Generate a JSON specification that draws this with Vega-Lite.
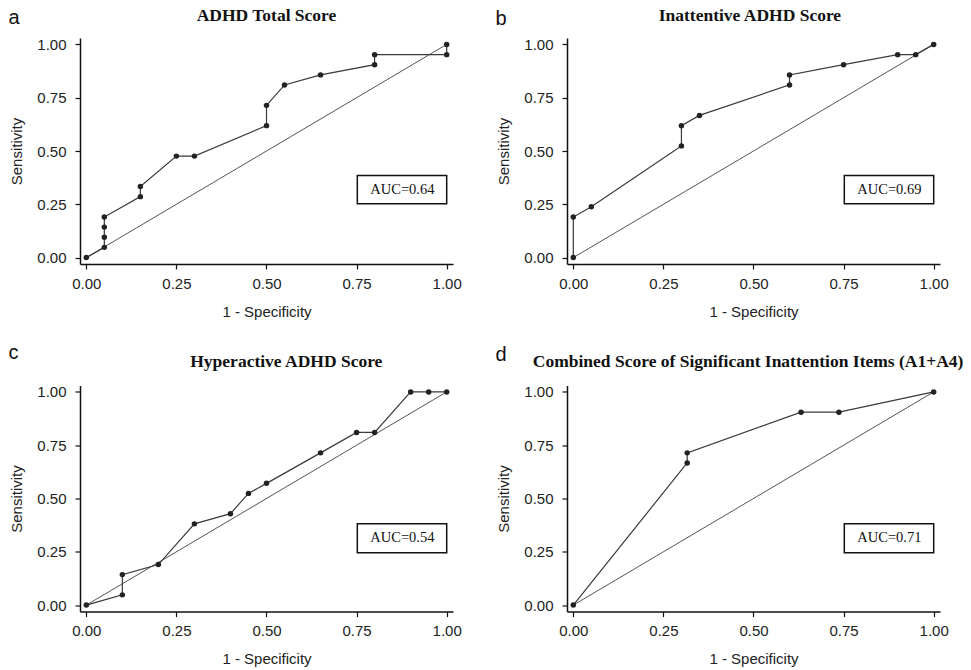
{
  "$schema": "https://vega.github.io/schema/vega-lite/v6.json",
  "background": "white",
  "padding": {"left": 8, "top": 7, "right": 5, "bottom": 2},
  "columns": 2,
  "spacing": {"row": 23.5, "column": 33},
  "config": {
    "view": {"stroke": null},
    "axis": {
      "domainColor": "#111", "domainWidth": 1.5, "tickColor": "#111", "tickWidth": 1.2, "tickSize": 5,
      "gridColor": "#ececec", "gridWidth": 1, "labelFont": "Liberation Sans", "labelFontSize": 15,
      "labelColor": "#222", "titleFont": "Liberation Sans", "titleFontSize": 15, "titleFontWeight": "normal",
      "titleColor": "#222", "labelFlush": false
    },
    "axisX": {"labelPadding": 7, "titlePadding": 13},
    "axisY": {"labelPadding": 9, "titlePadding": 12}
  },
  "datasets": {
    "roc": [
      {"p": "a", "i": 1, "fpr": 0, "tpr": 0},
      {"p": "a", "i": 2, "fpr": 0.05, "tpr": 0.048},
      {"p": "a", "i": 3, "fpr": 0.05, "tpr": 0.095},
      {"p": "a", "i": 4, "fpr": 0.05, "tpr": 0.143},
      {"p": "a", "i": 5, "fpr": 0.05, "tpr": 0.19},
      {"p": "a", "i": 6, "fpr": 0.15, "tpr": 0.286},
      {"p": "a", "i": 7, "fpr": 0.15, "tpr": 0.333},
      {"p": "a", "i": 8, "fpr": 0.25, "tpr": 0.476},
      {"p": "a", "i": 9, "fpr": 0.3, "tpr": 0.476},
      {"p": "a", "i": 10, "fpr": 0.5, "tpr": 0.619},
      {"p": "a", "i": 11, "fpr": 0.5, "tpr": 0.714},
      {"p": "a", "i": 12, "fpr": 0.55, "tpr": 0.81},
      {"p": "a", "i": 13, "fpr": 0.65, "tpr": 0.857},
      {"p": "a", "i": 14, "fpr": 0.8, "tpr": 0.905},
      {"p": "a", "i": 15, "fpr": 0.8, "tpr": 0.952},
      {"p": "a", "i": 16, "fpr": 1, "tpr": 0.952},
      {"p": "a", "i": 17, "fpr": 1, "tpr": 1},
      {"p": "b", "i": 1, "fpr": 0, "tpr": 0},
      {"p": "b", "i": 2, "fpr": 0, "tpr": 0.19},
      {"p": "b", "i": 3, "fpr": 0.05, "tpr": 0.238},
      {"p": "b", "i": 4, "fpr": 0.3, "tpr": 0.524},
      {"p": "b", "i": 5, "fpr": 0.3, "tpr": 0.619},
      {"p": "b", "i": 6, "fpr": 0.35, "tpr": 0.667},
      {"p": "b", "i": 7, "fpr": 0.6, "tpr": 0.81},
      {"p": "b", "i": 8, "fpr": 0.6, "tpr": 0.857},
      {"p": "b", "i": 9, "fpr": 0.75, "tpr": 0.905},
      {"p": "b", "i": 10, "fpr": 0.9, "tpr": 0.952},
      {"p": "b", "i": 11, "fpr": 0.95, "tpr": 0.952},
      {"p": "b", "i": 12, "fpr": 1, "tpr": 1},
      {"p": "c", "i": 1, "fpr": 0, "tpr": 0},
      {"p": "c", "i": 2, "fpr": 0.1, "tpr": 0.048},
      {"p": "c", "i": 3, "fpr": 0.1, "tpr": 0.143},
      {"p": "c", "i": 4, "fpr": 0.2, "tpr": 0.19},
      {"p": "c", "i": 5, "fpr": 0.3, "tpr": 0.381},
      {"p": "c", "i": 6, "fpr": 0.4, "tpr": 0.429},
      {"p": "c", "i": 7, "fpr": 0.45, "tpr": 0.524},
      {"p": "c", "i": 8, "fpr": 0.5, "tpr": 0.571},
      {"p": "c", "i": 9, "fpr": 0.65, "tpr": 0.714},
      {"p": "c", "i": 10, "fpr": 0.75, "tpr": 0.81},
      {"p": "c", "i": 11, "fpr": 0.8, "tpr": 0.81},
      {"p": "c", "i": 12, "fpr": 0.9, "tpr": 1},
      {"p": "c", "i": 13, "fpr": 0.95, "tpr": 1},
      {"p": "c", "i": 14, "fpr": 1, "tpr": 1},
      {"p": "d", "i": 1, "fpr": 0, "tpr": 0},
      {"p": "d", "i": 2, "fpr": 0.316, "tpr": 0.667},
      {"p": "d", "i": 3, "fpr": 0.316, "tpr": 0.714},
      {"p": "d", "i": 4, "fpr": 0.632, "tpr": 0.905},
      {"p": "d", "i": 5, "fpr": 0.737, "tpr": 0.905},
      {"p": "d", "i": 6, "fpr": 1, "tpr": 1}
    ],
    "ann": [
      {"p": "a", "letter": "a", "title": "ADHD Total Score", "auc": "AUC=0.64"},
      {"p": "b", "letter": "b", "title": "Inattentive ADHD Score", "auc": "AUC=0.69"},
      {"p": "c", "letter": "c", "title": "Hyperactive ADHD Score", "auc": "AUC=0.54"},
      {"p": "d", "letter": "d", "title": "Combined Score of Significant Inattention Items (A1+A4)", "auc": "AUC=0.71"}
    ]
  },
  "concat": [
    {
      "width": 373, "height": 226,
      "data": {"name": "roc"},
      "transform": [{"filter": "datum.p === 'a'"}],
      "layer": [
        {"data": {"name": "ann"}, "transform": [{"filter": "datum.p === 'a'"}], "mark": {"type": "rule", "color": "#555", "strokeWidth": 1}, "encoding": {"x": {"datum": 0, "type": "quantitative", "title": "1 - Specificity"}, "y": {"datum": 0, "type": "quantitative", "title": "Sensitivity"}, "x2": {"datum": 1}, "y2": {"datum": 1}}},
        {"mark": {"type": "line", "color": "#3a3a3a", "strokeWidth": 1.2}, "encoding": {
          "x": {"field": "fpr", "type": "quantitative", "title": "1 - Specificity", "scale": {"domain": [-0.0175, 1.0175], "nice": false, "zero": false}, "axis": {"values": [0, 0.25, 0.5, 0.75, 1], "format": ".2f"}},
          "y": {"field": "tpr", "type": "quantitative", "title": "Sensitivity", "scale": {"domain": [-0.03, 1.03], "nice": false, "zero": false}, "axis": {"values": [0, 0.25, 0.5, 0.75, 1], "format": ".2f"}},
          "order": {"field": "i"}}},
        {"mark": {"type": "point", "filled": true, "color": "#222", "size": 30, "opacity": 1}, "encoding": {"x": {"field": "fpr", "type": "quantitative", "title": "1 - Specificity"}, "y": {"field": "tpr", "type": "quantitative", "title": "Sensitivity"}}},
        {"data": {"name": "ann"}, "transform": [{"filter": "datum.p === 'a'"}], "mark": {"type": "rect", "fill": "white", "stroke": "#111", "strokeWidth": 1.5}, "encoding": {"x": {"datum": 0.752, "type": "quantitative", "title": "1 - Specificity"}, "x2": {"datum": 1.0}, "y": {"datum": 0.253, "type": "quantitative", "title": "Sensitivity"}, "y2": {"datum": 0.385}}},
        {"data": {"name": "ann"}, "transform": [{"filter": "datum.p === 'a'"}], "mark": {"type": "text", "font": "Liberation Serif", "fontSize": 14.5, "color": "#111", "baseline": "middle"}, "encoding": {"x": {"datum": 0.877, "type": "quantitative", "title": "1 - Specificity"}, "y": {"datum": 0.319, "type": "quantitative", "title": "Sensitivity"}, "text": {"field": "auc"}}},
        {"data": {"name": "ann"}, "transform": [{"filter": "datum.p === 'a'"}], "mark": {"type": "text", "font": "Liberation Sans", "fontSize": 20, "align": "left", "baseline": "alphabetic", "color": "#111"}, "encoding": {"x": {"datum": -0.216, "type": "quantitative", "title": "1 - Specificity"}, "y": {"datum": 1.097, "type": "quantitative", "title": "Sensitivity"}, "text": {"field": "letter"}}},
        {"data": {"name": "ann"}, "transform": [{"filter": "datum.p === 'a'"}], "mark": {"type": "text", "font": "Liberation Serif", "fontSize": 17.5, "fontWeight": "bold", "align": "center", "baseline": "alphabetic", "color": "#111"}, "encoding": {"x": {"datum": 0.5, "type": "quantitative", "title": "1 - Specificity"}, "y": {"datum": 1.109, "type": "quantitative", "title": "Sensitivity"}, "text": {"field": "title"}}}
      ]
    },
    {
      "width": 373, "height": 226,
      "data": {"name": "roc"},
      "transform": [{"filter": "datum.p === 'b'"}],
      "layer": [
        {"data": {"name": "ann"}, "transform": [{"filter": "datum.p === 'b'"}], "mark": {"type": "rule", "color": "#555", "strokeWidth": 1}, "encoding": {"x": {"datum": 0, "type": "quantitative", "title": "1 - Specificity"}, "y": {"datum": 0, "type": "quantitative", "title": "Sensitivity"}, "x2": {"datum": 1}, "y2": {"datum": 1}}},
        {"mark": {"type": "line", "color": "#3a3a3a", "strokeWidth": 1.2}, "encoding": {
          "x": {"field": "fpr", "type": "quantitative", "title": "1 - Specificity", "scale": {"domain": [-0.0175, 1.0175], "nice": false, "zero": false}, "axis": {"values": [0, 0.25, 0.5, 0.75, 1], "format": ".2f"}},
          "y": {"field": "tpr", "type": "quantitative", "title": "Sensitivity", "scale": {"domain": [-0.03, 1.03], "nice": false, "zero": false}, "axis": {"values": [0, 0.25, 0.5, 0.75, 1], "format": ".2f"}},
          "order": {"field": "i"}}},
        {"mark": {"type": "point", "filled": true, "color": "#222", "size": 30, "opacity": 1}, "encoding": {"x": {"field": "fpr", "type": "quantitative", "title": "1 - Specificity"}, "y": {"field": "tpr", "type": "quantitative", "title": "Sensitivity"}}},
        {"data": {"name": "ann"}, "transform": [{"filter": "datum.p === 'b'"}], "mark": {"type": "rect", "fill": "white", "stroke": "#111", "strokeWidth": 1.5}, "encoding": {"x": {"datum": 0.752, "type": "quantitative", "title": "1 - Specificity"}, "x2": {"datum": 1.0}, "y": {"datum": 0.253, "type": "quantitative", "title": "Sensitivity"}, "y2": {"datum": 0.385}}},
        {"data": {"name": "ann"}, "transform": [{"filter": "datum.p === 'b'"}], "mark": {"type": "text", "font": "Liberation Serif", "fontSize": 14.5, "color": "#111", "baseline": "middle"}, "encoding": {"x": {"datum": 0.877, "type": "quantitative", "title": "1 - Specificity"}, "y": {"datum": 0.319, "type": "quantitative", "title": "Sensitivity"}, "text": {"field": "auc"}}},
        {"data": {"name": "ann"}, "transform": [{"filter": "datum.p === 'b'"}], "mark": {"type": "text", "font": "Liberation Sans", "fontSize": 20, "align": "left", "baseline": "alphabetic", "color": "#111"}, "encoding": {"x": {"datum": -0.216, "type": "quantitative", "title": "1 - Specificity"}, "y": {"datum": 1.089, "type": "quantitative", "title": "Sensitivity"}, "text": {"field": "letter"}}},
        {"data": {"name": "ann"}, "transform": [{"filter": "datum.p === 'b'"}], "mark": {"type": "text", "font": "Liberation Serif", "fontSize": 17.5, "fontWeight": "bold", "align": "center", "baseline": "alphabetic", "color": "#111"}, "encoding": {"x": {"datum": 0.49, "type": "quantitative", "title": "1 - Specificity"}, "y": {"datum": 1.109, "type": "quantitative", "title": "Sensitivity"}, "text": {"field": "title"}}}
      ]
    },
    {
      "width": 373, "height": 226,
      "data": {"name": "roc"},
      "transform": [{"filter": "datum.p === 'c'"}],
      "layer": [
        {"data": {"name": "ann"}, "transform": [{"filter": "datum.p === 'c'"}], "mark": {"type": "rule", "color": "#555", "strokeWidth": 1}, "encoding": {"x": {"datum": 0, "type": "quantitative", "title": "1 - Specificity"}, "y": {"datum": 0, "type": "quantitative", "title": "Sensitivity"}, "x2": {"datum": 1}, "y2": {"datum": 1}}},
        {"mark": {"type": "line", "color": "#3a3a3a", "strokeWidth": 1.2}, "encoding": {
          "x": {"field": "fpr", "type": "quantitative", "title": "1 - Specificity", "scale": {"domain": [-0.0175, 1.0175], "nice": false, "zero": false}, "axis": {"values": [0, 0.25, 0.5, 0.75, 1], "format": ".2f"}},
          "y": {"field": "tpr", "type": "quantitative", "title": "Sensitivity", "scale": {"domain": [-0.03, 1.03], "nice": false, "zero": false}, "axis": {"values": [0, 0.25, 0.5, 0.75, 1], "format": ".2f"}},
          "order": {"field": "i"}}},
        {"mark": {"type": "point", "filled": true, "color": "#222", "size": 30, "opacity": 1}, "encoding": {"x": {"field": "fpr", "type": "quantitative", "title": "1 - Specificity"}, "y": {"field": "tpr", "type": "quantitative", "title": "Sensitivity"}}},
        {"data": {"name": "ann"}, "transform": [{"filter": "datum.p === 'c'"}], "mark": {"type": "rect", "fill": "white", "stroke": "#111", "strokeWidth": 1.5}, "encoding": {"x": {"datum": 0.752, "type": "quantitative", "title": "1 - Specificity"}, "x2": {"datum": 1.0}, "y": {"datum": 0.246, "type": "quantitative", "title": "Sensitivity"}, "y2": {"datum": 0.382}}},
        {"data": {"name": "ann"}, "transform": [{"filter": "datum.p === 'c'"}], "mark": {"type": "text", "font": "Liberation Serif", "fontSize": 14.5, "color": "#111", "baseline": "middle"}, "encoding": {"x": {"datum": 0.877, "type": "quantitative", "title": "1 - Specificity"}, "y": {"datum": 0.314, "type": "quantitative", "title": "Sensitivity"}, "text": {"field": "auc"}}},
        {"data": {"name": "ann"}, "transform": [{"filter": "datum.p === 'c'"}], "mark": {"type": "text", "font": "Liberation Sans", "fontSize": 20, "align": "left", "baseline": "alphabetic", "color": "#111"}, "encoding": {"x": {"datum": -0.216, "type": "quantitative", "title": "1 - Specificity"}, "y": {"datum": 1.154, "type": "quantitative", "title": "Sensitivity"}, "text": {"field": "letter"}}},
        {"data": {"name": "ann"}, "transform": [{"filter": "datum.p === 'c'"}], "mark": {"type": "text", "font": "Liberation Serif", "fontSize": 17.5, "fontWeight": "bold", "align": "center", "baseline": "alphabetic", "color": "#111"}, "encoding": {"x": {"datum": 0.555, "type": "quantitative", "title": "1 - Specificity"}, "y": {"datum": 1.118, "type": "quantitative", "title": "Sensitivity"}, "text": {"field": "title"}}}
      ]
    },
    {
      "width": 373, "height": 226,
      "data": {"name": "roc"},
      "transform": [{"filter": "datum.p === 'd'"}],
      "layer": [
        {"data": {"name": "ann"}, "transform": [{"filter": "datum.p === 'd'"}], "mark": {"type": "rule", "color": "#555", "strokeWidth": 1}, "encoding": {"x": {"datum": 0, "type": "quantitative", "title": "1 - Specificity"}, "y": {"datum": 0, "type": "quantitative", "title": "Sensitivity"}, "x2": {"datum": 1}, "y2": {"datum": 1}}},
        {"mark": {"type": "line", "color": "#3a3a3a", "strokeWidth": 1.2}, "encoding": {
          "x": {"field": "fpr", "type": "quantitative", "title": "1 - Specificity", "scale": {"domain": [-0.0175, 1.0175], "nice": false, "zero": false}, "axis": {"values": [0, 0.25, 0.5, 0.75, 1], "format": ".2f"}},
          "y": {"field": "tpr", "type": "quantitative", "title": "Sensitivity", "scale": {"domain": [-0.03, 1.03], "nice": false, "zero": false}, "axis": {"values": [0, 0.25, 0.5, 0.75, 1], "format": ".2f"}},
          "order": {"field": "i"}}},
        {"mark": {"type": "point", "filled": true, "color": "#222", "size": 30, "opacity": 1}, "encoding": {"x": {"field": "fpr", "type": "quantitative", "title": "1 - Specificity"}, "y": {"field": "tpr", "type": "quantitative", "title": "Sensitivity"}}},
        {"data": {"name": "ann"}, "transform": [{"filter": "datum.p === 'd'"}], "mark": {"type": "rect", "fill": "white", "stroke": "#111", "strokeWidth": 1.5}, "encoding": {"x": {"datum": 0.752, "type": "quantitative", "title": "1 - Specificity"}, "x2": {"datum": 1.0}, "y": {"datum": 0.246, "type": "quantitative", "title": "Sensitivity"}, "y2": {"datum": 0.382}}},
        {"data": {"name": "ann"}, "transform": [{"filter": "datum.p === 'd'"}], "mark": {"type": "text", "font": "Liberation Serif", "fontSize": 14.5, "color": "#111", "baseline": "middle"}, "encoding": {"x": {"datum": 0.877, "type": "quantitative", "title": "1 - Specificity"}, "y": {"datum": 0.314, "type": "quantitative", "title": "Sensitivity"}, "text": {"field": "auc"}}},
        {"data": {"name": "ann"}, "transform": [{"filter": "datum.p === 'd'"}], "mark": {"type": "text", "font": "Liberation Sans", "fontSize": 20, "align": "left", "baseline": "alphabetic", "color": "#111"}, "encoding": {"x": {"datum": -0.216, "type": "quantitative", "title": "1 - Specificity"}, "y": {"datum": 1.144, "type": "quantitative", "title": "Sensitivity"}, "text": {"field": "letter"}}},
        {"data": {"name": "ann"}, "transform": [{"filter": "datum.p === 'd'"}], "mark": {"type": "text", "font": "Liberation Serif", "fontSize": 17.5, "fontWeight": "bold", "align": "center", "baseline": "alphabetic", "color": "#111"}, "encoding": {"x": {"datum": 0.485, "type": "quantitative", "title": "1 - Specificity"}, "y": {"datum": 1.118, "type": "quantitative", "title": "Sensitivity"}, "text": {"field": "title"}}}
      ]
    }
  ]
}
